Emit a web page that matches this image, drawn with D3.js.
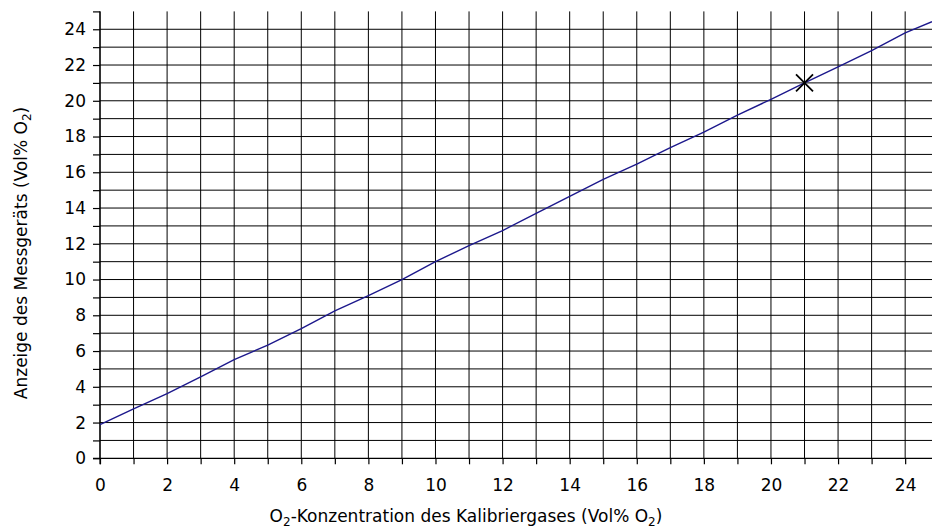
<!DOCTYPE html>
<html>
<head>
<meta charset="utf-8">
<script src="https://cdn.jsdelivr.net/npm/d3@7"></script>
<style>
  body { margin: 0; background: #fff; }
  svg { display: block; }
</style>
</head>
<body>
<script>
// O2 concentration of calibration gas vs. instrument reading
var gasConc = [0, 1, 2, 3, 4, 5, 6, 7, 8, 9, 10, 11, 12, 13, 14, 15, 16, 17, 18, 19, 20, 21, 22, 23, 24, 24.8];
var reading = [1.88, 2.77, 3.62, 4.56, 5.52, 6.33, 7.25, 8.25, 9.1, 10.0, 11.0, 11.9, 12.74, 13.7, 14.65, 15.6, 16.45, 17.38, 18.25, 19.2, 20.08, 21.0, 21.9, 22.8, 23.8, 24.42];
var xTicks = d3.range(0, 25);     // 0..24
var yTicks = d3.range(0, 26);     // 0..25
var calPoint = [21, 21];

var svg = d3.select("body").append("svg")
    .attr("width", 932)
    .attr("height", 532);

var x = d3.scaleLinear().domain([0, 24.8]).range([100, 932]);
var y = d3.scaleLinear().domain([0, 25]).range([458.3, 11.4]);

var font = "'DejaVu Sans', sans-serif";

// grid
svg.append("g")
    .selectAll("line")
    .data(xTicks)
    .enter().append("line")
      .attr("x1", function(d) { return x(d); })
      .attr("x2", function(d) { return x(d); })
      .attr("y1", y(25))
      .attr("y2", y(0))
      .attr("stroke", "#000")
      .attr("stroke-width", 1);

svg.append("g")
    .selectAll("line")
    .data(yTicks.filter(function(d) { return d > 0 && d < 25; }))
    .enter().append("line")
      .attr("x1", x(0))
      .attr("x2", x(24.8))
      .attr("y1", function(d) { return y(d); })
      .attr("y2", function(d) { return y(d); })
      .attr("stroke", "#000")
      .attr("stroke-width", 1);

// axes
var xAxis = svg.append("g")
    .attr("transform", "translate(0," + y(0) + ")")
    .call(d3.axisBottom(x)
      .tickValues(xTicks)
      .tickSize(6)
      .tickSizeOuter(0)
      .tickPadding(15)
      .tickFormat(function(d) { return d % 2 === 0 ? d : ""; }));

var yAxis = svg.append("g")
    .attr("transform", "translate(" + x(0) + ",0)")
    .call(d3.axisLeft(y)
      .tickValues(yTicks)
      .tickSize(7)
      .tickSizeOuter(0)
      .tickPadding(7)
      .tickFormat(function(d) { return d % 2 === 0 && d < 25 ? d : ""; }));

[xAxis, yAxis].forEach(function(a) {
  a.selectAll("path").attr("stroke", "#000").attr("stroke-width", 1.2);
  a.selectAll("line").attr("stroke", "#000").attr("stroke-width", 1.2);
  a.selectAll("text")
    .attr("fill", "#000")
    .style("font-family", font)
    .style("font-size", "17px");
});
// extend axis lines to meet the tick stubs
xAxis.select("path").attr("d", "M" + (x(0) - 7) + ",0H" + x(24.8));
yAxis.select("path").attr("d", "M0," + y(25) + "V" + (y(0) + 6));

// curve
var line = d3.line()
    .x(function(d, i) { return x(gasConc[i]); })
    .y(function(d) { return y(d); });

svg.append("path")
    .datum(reading)
    .attr("d", line)
    .attr("fill", "none")
    .attr("stroke", "#1c188c")
    .attr("stroke-width", 1.4);

// calibration mark
var cx = x(calPoint[0]), cy = y(calPoint[1]), r = 8.5;
svg.append("path")
    .attr("d", "M" + (cx - r) + "," + (cy - r) + "L" + (cx + r) + "," + (cy + r) +
               "M" + (cx - r) + "," + (cy + r) + "L" + (cx + r) + "," + (cy - r))
    .attr("stroke", "#000")
    .attr("stroke-width", 1.8)
    .attr("fill", "none");

// axis titles
var xTitle = svg.append("text")
    .attr("x", 466)
    .attr("y", 522)
    .attr("text-anchor", "middle")
    .style("font-family", font)
    .style("font-size", "17px")
    .attr("fill", "#000");
xTitle.append("tspan").text("O");
xTitle.append("tspan").attr("dy", 4).style("font-size", "12px").text("2");
xTitle.append("tspan").attr("dy", -4).text("-Konzentration des Kalibriergases (Vol% O");
xTitle.append("tspan").attr("dy", 4).style("font-size", "12px").text("2");
xTitle.append("tspan").attr("dy", -4).text(")");

var yTitle = svg.append("text")
    .attr("transform", "translate(27,253) rotate(-90)")
    .attr("text-anchor", "middle")
    .style("font-family", font)
    .style("font-size", "17px")
    .attr("fill", "#000");
yTitle.append("tspan").text("Anzeige des Messgeräts (Vol% O");
yTitle.append("tspan").attr("dy", 4).style("font-size", "12px").text("2");
yTitle.append("tspan").attr("dy", -4).text(")");
</script>
</body>
</html>
